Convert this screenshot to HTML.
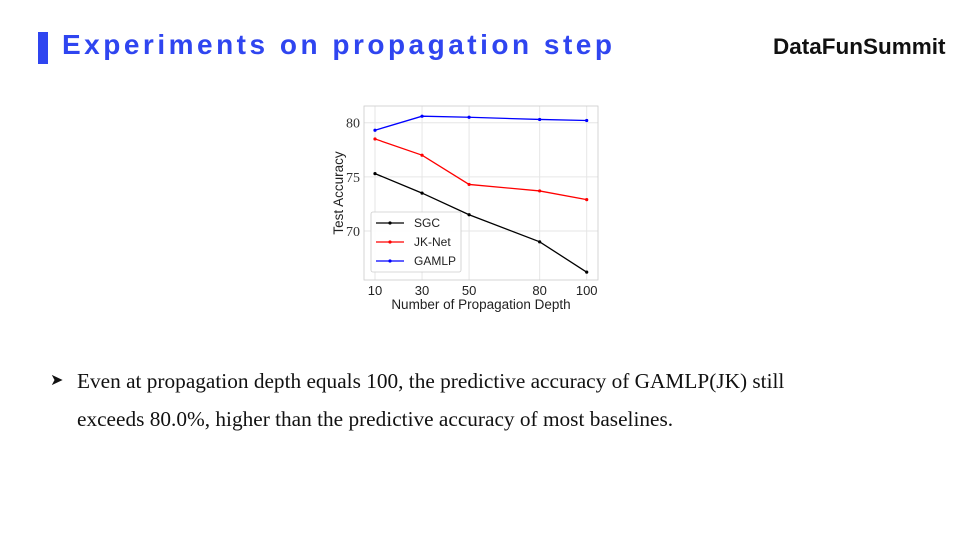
<!DOCTYPE html>
<html><head><meta charset="utf-8"><style>
body{margin:0;width:960px;height:540px;background:#fff;position:relative;overflow:hidden;font-family:"Liberation Sans",sans-serif}
.t{position:absolute}
</style></head><body>
<div class="t" style="left:38px;top:32px;width:10px;height:32px;background:#2f45f0"></div>
<div class="t" style="left:62px;top:29px;font-size:28px;font-weight:bold;color:#2f45f0;letter-spacing:3.5px;white-space:nowrap">Experiments on propagation step</div>
<div class="t" style="left:773px;top:34px;font-size:22.5px;font-weight:bold;color:#111;white-space:nowrap">DataFunSummit</div>
<svg class="t" style="left:0;top:0" width="960" height="540">
<g id="chart"></g>
</svg>
<div class="t" style="left:50px;top:362px;font-family:'Liberation Serif',serif;font-size:21.3px;line-height:38px;color:#111;white-space:nowrap">
<span style="position:absolute;left:0;font-size:16px">&#x27A4;</span>
<div style="margin-left:27px">Even at propagation depth equals 100, the predictive accuracy of GAMLP(JK) still<br>exceeds 80.0%, higher than the predictive accuracy of most baselines.</div>
</div>
<script>
const depths=[10,30,50,80,100];
const sgc=[75.3,73.5,71.5,69.0,66.2];
const jknet=[78.5,77.0,74.3,73.7,72.9];
const gamlp=[79.3,80.6,80.5,80.3,80.2];
const yTicks=[70,75,80];
const xTicks=[10,30,50,80,100];
const seriesNames=["SGC","JK-Net","GAMLP"];
const NS="http://www.w3.org/2000/svg";
const g=document.getElementById('chart');
const L=364,R=598,T=106,B=280;
const xs=v=>375+(v-10)*(586.7-375)/90;
const ys=v=>231-(v-70)*(231-122.7)/10;
function mk(tag,attrs,parent){const e=document.createElementNS(NS,tag);for(const k in attrs)e.setAttribute(k,attrs[k]);(parent||g).appendChild(e);return e;}
for(const t of yTicks){
 const l=mk('line',{x1:L,x2:R,y1:ys(t),y2:ys(t),stroke:'#e6e6e6','stroke-width':1});
 
 
 const tx=mk('text',{x:L-4,y:ys(t)+5,'text-anchor':'end','font-family':'Liberation Serif, serif','font-size':14,fill:'#333'});
 tx.textContent=t;
 
 
}
for(const t of xTicks){
 const l=mk('line',{x1:xs(t),x2:xs(t),y1:T,y2:B,stroke:'#e6e6e6','stroke-width':1});
 
 
 const tx=mk('text',{x:xs(t),y:B+15,'text-anchor':'middle','font-size':13,fill:'#222'});
 tx.textContent=t;
 
 
}
const frame=mk('rect',{x:L,y:T,width:R-L,height:B-T,fill:'none',stroke:'#ccc','stroke-width':0.8});


const cols=['#000','#f00','#00f'];
[sgc,jknet,gamlp].forEach((s,i)=>{
 const p=mk('polyline',{points:s.map((v,j)=>xs(depths[j])+','+ys(v)).join(' '),fill:'none',stroke:cols[i],'stroke-width':1.3});
 
 
 s.forEach((v,j)=>{
  const c=mk('circle',{cx:xs(depths[j]),cy:ys(v),r:1.6,fill:cols[i]});
  
  
 });
});
const lg=mk('rect',{x:371,y:212,width:90,height:60,fill:'#fff','fill-opacity':0.85,stroke:'#ccc','stroke-width':0.8,rx:2});


seriesNames.forEach((n,i)=>{
 const y=223+i*19;
 const l=mk('line',{x1:376,x2:404,y1:y,y2:y,stroke:cols[i],'stroke-width':1.3});
 
 
 mk('circle',{cx:390,cy:y,r:1.6,fill:cols[i]});
 const tx=mk('text',{x:414,y:y+4,'font-size':12,fill:'#222'});
 tx.textContent=n;
 
 
});
const xt=mk('text',{x:481,y:309,'text-anchor':'middle','font-size':13.5,fill:'#222'});
xt.textContent='Number of Propagation Depth';


const yt=mk('text',{x:0,y:0,'text-anchor':'middle','font-size':13.5,fill:'#222',transform:'translate(343,193) rotate(-90)'});
yt.textContent='Test Accuracy';


</script>
</body></html>
